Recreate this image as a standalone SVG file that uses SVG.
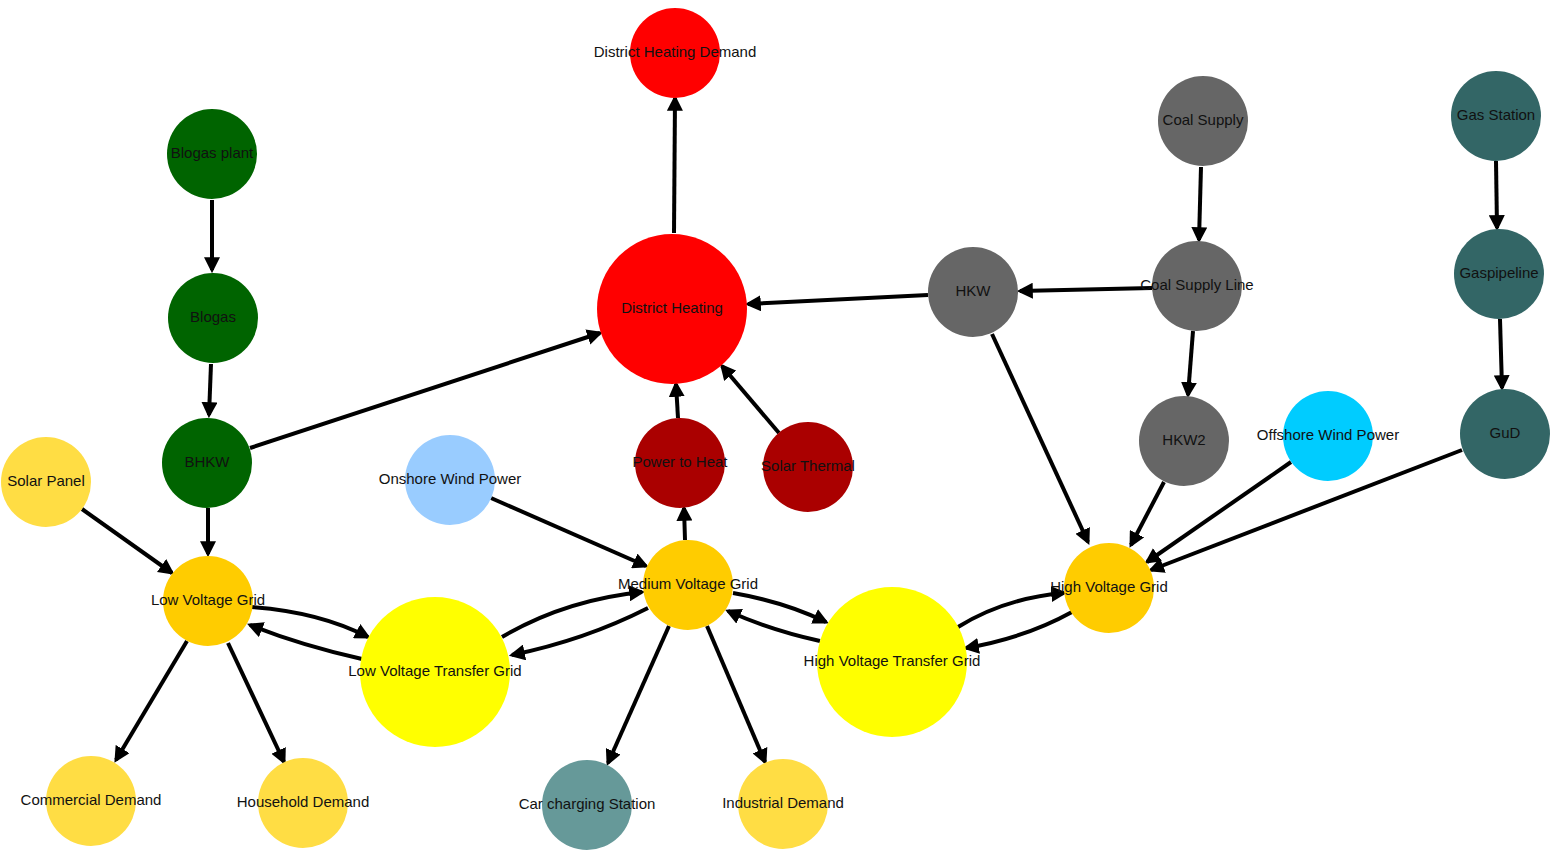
<svg xmlns="http://www.w3.org/2000/svg" width="1558" height="856" viewBox="0 0 1558 856">
<style>
text{font-family:"Liberation Sans",Arial,sans-serif;font-size:15px;fill:#111;text-anchor:middle;dominant-baseline:middle}
.e{stroke:#000;stroke-width:4;fill:none;marker-end:url(#a)}
</style>
<defs><marker id="a" viewBox="0 0 10 10" refX="8" refY="5" markerWidth="4" markerHeight="4" orient="auto" markerUnits="strokeWidth"><path d="M0,0L10,5L0,10z" fill="#000"/></marker></defs>
<rect width="1558" height="856" fill="#fff"/>
<g id="connectors">
<path class="e" d="M212,200L212,270"/>
<path class="e" d="M211,364L209,415"/>
<path class="e" d="M208,508L208,554"/>
<path class="e" d="M250,448L600,333"/>
<path class="e" d="M82,509L172,573"/>
<path class="e" d="M674,233L675,98"/>
<path class="e" d="M1201,167L1199,240"/>
<path class="e" d="M1152,288L1020,291"/>
<path class="e" d="M928,295L748,304"/>
<path class="e" d="M1193,331L1188,395"/>
<path class="e" d="M992,334L1088,542"/>
<path class="e" d="M1164,482L1131,545"/>
<path class="e" d="M1291,462L1147,562"/>
<path class="e" d="M1462,450L1151,570"/>
<path class="e" d="M1496,161L1497,228"/>
<path class="e" d="M1500,319L1502,388"/>
<path class="e" d="M678,418L676,384"/>
<path class="e" d="M779,433L722,366"/>
<path class="e" d="M685,540L684,508"/>
<path class="e" d="M491,498L646,566"/>
<path class="e" d="M252,607Q320,612 368,637"/>
<path class="e" d="M362,659Q300,645 250,625"/>
<path class="e" d="M502,637Q565,600 642,592"/>
<path class="e" d="M648,608Q585,640 512,655"/>
<path class="e" d="M733,593Q785,602 826,622"/>
<path class="e" d="M820,641Q770,630 728,611"/>
<path class="e" d="M958,627Q1005,598 1064,593"/>
<path class="e" d="M1072,612Q1025,638 966,648"/>
<path class="e" d="M187,641L116,760"/>
<path class="e" d="M228,643L284,762"/>
<path class="e" d="M669,626L608,763"/>
<path class="e" d="M707,626L765,762"/>
</g>
<g id="n1"><circle cx="675" cy="53" r="45" fill="#ff0000"/><text x="675" y="53">District Heating Demand</text></g>
<g id="n2"><circle cx="212" cy="154" r="45" fill="#006400"/><text x="212" y="154">Blogas plant</text></g>
<g id="n3"><circle cx="1203" cy="121" r="45" fill="#666"/><text x="1203" y="121">Coal Supply</text></g>
<g id="n4"><circle cx="1496" cy="116" r="45" fill="#336666"/><text x="1496" y="116">Gas Station</text></g>
<g id="n5"><circle cx="213" cy="318" r="45" fill="#006400"/><text x="213" y="318">Blogas</text></g>
<g id="n6"><circle cx="672" cy="309" r="75" fill="#ff0000"/><text x="672" y="309">District Heating</text></g>
<g id="n7"><circle cx="973" cy="292" r="45" fill="#666"/><text x="973" y="292">HKW</text></g>
<g id="n8"><circle cx="1197" cy="286" r="45" fill="#666"/><text x="1197" y="286">Coal Supply Line</text></g>
<g id="n9"><circle cx="1499" cy="274" r="45" fill="#336666"/><text x="1499" y="274">Gaspipeline</text></g>
<g id="n10"><circle cx="207" cy="463" r="45" fill="#006400"/><text x="207" y="463">BHKW</text></g>
<g id="n11"><circle cx="46" cy="482" r="45" fill="#ffdd44"/><text x="46" y="482">Solar Panel</text></g>
<g id="n12"><circle cx="450" cy="480" r="45" fill="#99ccff"/><text x="450" y="480">Onshore Wind Power</text></g>
<g id="n13"><circle cx="680" cy="463" r="45" fill="#aa0000"/><text x="680" y="463">Power to Heat</text></g>
<g id="n14"><circle cx="808" cy="467" r="45" fill="#aa0000"/><text x="808" y="467">Solar Thermal</text></g>
<g id="n15"><circle cx="1184" cy="441" r="45" fill="#666"/><text x="1184" y="441">HKW2</text></g>
<g id="n16"><circle cx="1328" cy="436" r="45" fill="#00ccff"/><text x="1328" y="436">Offshore Wind Power</text></g>
<g id="n17"><circle cx="1505" cy="434" r="45" fill="#336666"/><text x="1505" y="434">GuD</text></g>
<g id="n18"><circle cx="208" cy="601" r="45" fill="#ffcc00"/><text x="208" y="601">Low Voltage Grid</text></g>
<g id="n19"><circle cx="688" cy="585" r="45" fill="#ffcc00"/><text x="688" y="585">Medium Voltage Grid</text></g>
<g id="n20"><circle cx="1109" cy="588" r="45" fill="#ffcc00"/><text x="1109" y="588">High Voltage Grid</text></g>
<g id="n21"><circle cx="435" cy="672" r="75" fill="#ffff00"/><text x="435" y="672">Low Voltage Transfer Grid</text></g>
<g id="n22"><circle cx="892" cy="662" r="75" fill="#ffff00"/><text x="892" y="662">High Voltage Transfer Grid</text></g>
<g id="n23"><circle cx="91" cy="801" r="45" fill="#ffdd44"/><text x="91" y="801">Commercial Demand</text></g>
<g id="n24"><circle cx="303" cy="803" r="45" fill="#ffdd44"/><text x="303" y="803">Household Demand</text></g>
<g id="n25"><circle cx="587" cy="805" r="45" fill="#669999"/><text x="587" y="805">Car charging Station</text></g>
<g id="n26"><circle cx="783" cy="804" r="45" fill="#ffdd44"/><text x="783" y="804">Industrial Demand</text></g>
</svg>
